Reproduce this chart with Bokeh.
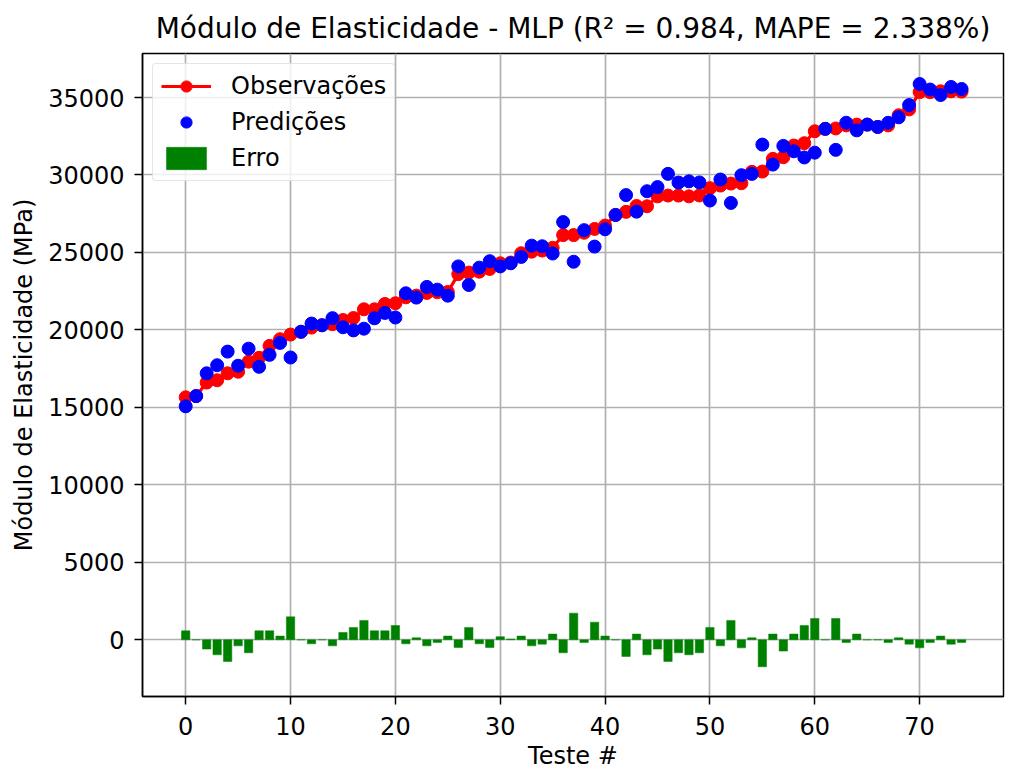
from bokeh.plotting import figure
from bokeh.models import Range1d, Legend, LegendItem, ColumnDataSource, FixedTicker
from bokeh.embed import file_html
from bokeh.resources import INLINE

teste = list(range(75))

observacoes = [15650, 15730, 16600, 16750, 17200, 17300, 17950, 18200, 18970, 19400,
               19700, 19880, 20150, 20300, 20370, 20640, 20770, 21330, 21330, 21675,
               21720, 22105, 22214, 22386, 22430, 22450, 23600, 23700, 23760, 23935,
               24300, 24350, 24950, 25050, 25120, 25300, 26120, 26120, 26270, 26518,
               26734, 27420, 27620, 28000, 27980, 28620, 28672, 28672, 28620, 28680,
               29150, 29317, 29445, 29467, 30200, 30220, 31039, 31146, 31900, 32050,
               32820, 32976, 33000, 33200, 33250, 33250, 33100, 33200, 33850, 34230,
               35350, 35344, 35400, 35400, 35380]

predicoes = [15070, 15730, 17200, 17720, 18600, 17690, 18790, 17620, 18390, 19160,
             18220, 19880, 20410, 20300, 20760, 20170, 19970, 20080, 20750, 21095,
             20800, 22365, 22084, 22776, 22600, 22210, 24100, 22900, 24020, 24435,
             24100, 24300, 24710, 25440, 25400, 24930, 26960, 24400, 26440, 25378,
             26494, 27420, 28700, 27630, 28950, 29220, 30072, 29512, 29590, 29520,
             28350, 29707, 28195, 29987, 30070, 31960, 30669, 31876, 31530, 31130,
             31440, 32976, 31620, 33370, 32880, 33250, 33100, 33370, 33720, 34510,
             35870, 35514, 35160, 35680, 35550]

erro = [580, 0, -600, -970, -1400, -390, -840, 580, 580, 240,
        1480, 0, -260, 0, -390, 470, 800, 1250, 580, 580,
        920, -260, 130, -390, -170, 240, -500, 800, -260, -500,
        200, 50, 240, -390, -280, 370, -840, 1720, -170, 1140,
        240, 0, -1075, 370, -970, -600, -1400, -840, -970, -840,
        800, -390, 1250, -520, 130, -1740, 370, -730, 370, 920,
        1380, 0, 1380, -170, 370, 0, 0, -170, 130, -280,
        -520, -170, 240, -280, -170]

x_ticks = [0, 10, 20, 30, 40, 50, 60, 70]
y_ticks = [0, 5000, 10000, 15000, 20000, 25000, 30000, 35000]

titulo = "Módulo de Elasticidade - MLP (R² = 0.984, MAPE = 2.338%)"
FONT = "DejaVu Sans"

p = figure(width=1013, height=772, output_backend="svg", toolbar_location=None,
           x_range=Range1d(-4.12, 78.0), y_range=Range1d(-3660, 37840),
           min_border_left=142, min_border_right=10, min_border_top=53, min_border_bottom=76,
           background_fill_color="white", border_fill_color="white")

p.title.text = titulo
p.title.align = "center"
p.title.text_font = FONT
p.title.text_font_size = "28px"
p.title.text_font_style = "normal"
p.title.text_color = "black"
p.title.standoff = 18

src = ColumnDataSource(dict(x=teste, obs=observacoes, pred=predicoes, err=erro))

bars = p.vbar(x="x", top="err", bottom=0, width=0.8, source=src,
              fill_color="green", line_color="green", line_width=0.5)
ln = p.line(x="x", y="obs", source=src, line_color="red", line_width=3.2)
pt_obs = p.scatter(x="x", y="obs", source=src, size=13, fill_color="red", line_color="red")
pt_pred = p.scatter(x="x", y="pred", source=src, size=13, fill_color="blue", line_color="blue")

for ax in (p.xaxis[0], p.yaxis[0]):
    ax.major_label_text_font = FONT
    ax.major_label_text_font_size = "24px"
    ax.major_label_text_color = "black"
    ax.axis_label_text_font = FONT
    ax.axis_label_text_font_size = "24px"
    ax.axis_label_text_font_style = "normal"
    ax.axis_label_text_color = "black"
    ax.major_tick_out = 8
    ax.major_tick_in = 0
    ax.minor_tick_out = 0
    ax.minor_tick_in = 0
    ax.axis_line_color = "black"
    ax.axis_line_width = 1.5
    ax.major_tick_line_color = "black"
    ax.major_tick_line_width = 1.5

p.xaxis[0].ticker = FixedTicker(ticks=x_ticks)
p.yaxis[0].ticker = FixedTicker(ticks=y_ticks)
p.xaxis[0].axis_label = "Teste #"
p.yaxis[0].axis_label = "Módulo de Elasticidade (MPa)"
p.xaxis[0].major_label_standoff = 12
p.yaxis[0].major_label_standoff = 10
p.xaxis[0].axis_label_standoff = 4
p.yaxis[0].axis_label_standoff = 7

p.xgrid.ticker = FixedTicker(ticks=x_ticks)
p.ygrid.ticker = FixedTicker(ticks=y_ticks)
p.grid.grid_line_color = "#b0b0b0"
p.grid.grid_line_width = 1.7

p.outline_line_color = "black"
p.outline_line_width = 1.5
p.outline_line_alpha = 1

legend = Legend(items=[
    LegendItem(label="Observações", renderers=[ln, pt_obs]),
    LegendItem(label="Predições", renderers=[pt_pred]),
    LegendItem(label="Erro", renderers=[bars]),
], location="top_left")
legend.label_text_font = FONT
legend.label_text_font_size = "24px"
legend.label_text_color = "black"
legend.glyph_width = 50
legend.glyph_height = 28
legend.label_height = 28
legend.spacing = 8
legend.padding = 8
legend.margin = 10
legend.label_standoff = 20
legend.border_line_color = "#cccccc"
legend.border_line_width = 1.5
legend.background_fill_alpha = 0.8
legend.border_radius = 4
p.add_layout(legend)

open("out.html", "w").write(file_html(p, INLINE))
